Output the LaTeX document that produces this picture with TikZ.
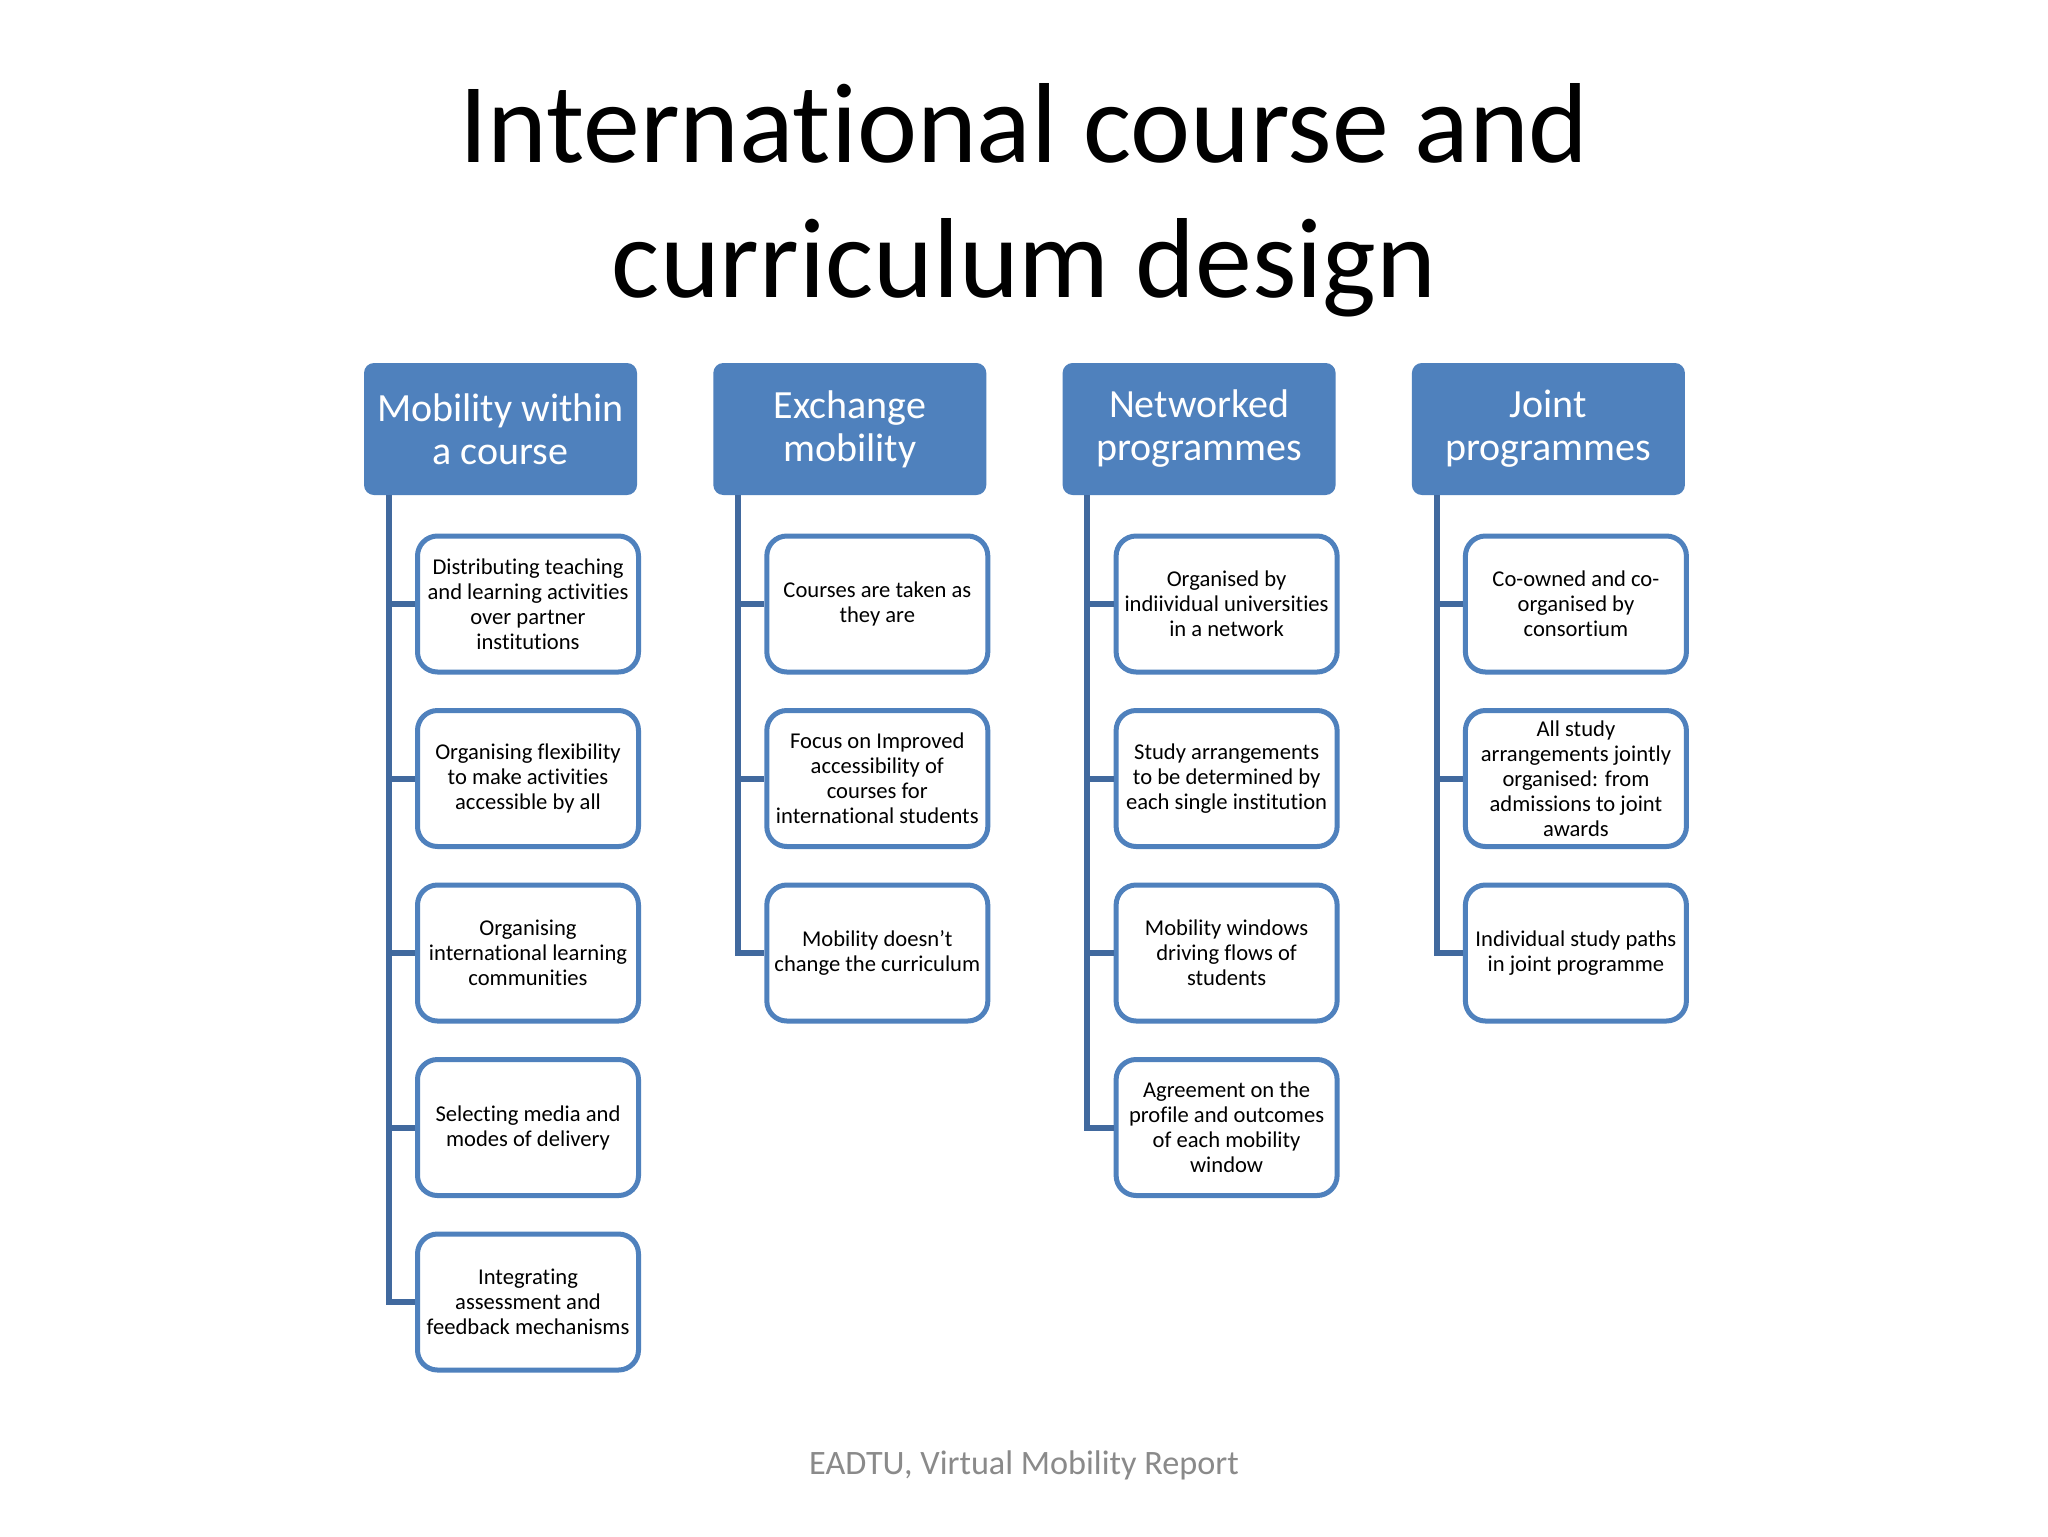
\documentclass[tikz,border=0pt]{standalone}
\usepackage{fontspec}
\setmainfont{Carlito}[Ligatures=NoCommon]
\definecolor{hdr}{HTML}{4F81BD}
\definecolor{bord}{HTML}{4F81BD}
\definecolor{conncol}{HTML}{41699E}
\definecolor{foot}{HTML}{8A8A8A}
\tikzset{
  header/.style={fill=hdr, draw=none, rounded corners=5pt, minimum width=136.5pt, minimum height=66pt,
    inner sep=0pt, align=center, text=white, font=\fontsize{20}{21.5}\selectfont},
  child/.style={fill=white, draw=bord, line width=2.5pt, rounded corners=10pt, minimum width=110.5pt,
    minimum height=68pt, inner sep=0pt, align=center, text=black, font=\fontsize{11.3}{12.5}\selectfont},
  conn/.style={draw=conncol, line width=3pt},
}
\begin{document}
\begin{tikzpicture}[x=0.5pt,y=-0.5pt]
\useasboundingbox[fill=white] (0,0) rectangle (2048,1536);
\node[font=\fontsize{56.9}{67.5}\selectfont, align=center] (title) at (1024,200) {International course and\\curriculum design};
\node[font=\fontsize{17.1}{19}\selectfont, text=foot] (footer) at (1024,1465) {EADTU, Virtual Mobility Report};

% headers
\node[header] (h0) at (500.5,429) {Mobility within\\a course};
\node[header] (h1) at (849.8,429) {Exchange\\mobility};
\node[header] (h2) at (1199.1,429) {Networked\\programmes};
\node[header] (h3) at (1548.4,429) {Joint\\programmes};

% column 0
\node[child] (c0-1) at (528,604) {Distributing teaching\\and learning activities\\over partner\\institutions};
\node[child] (c0-2) at (528,778.5) {Organising flexibility\\to make activities\\accessible by all};
\node[child] (c0-3) at (528,953) {Organising\\international learning\\communities};
\node[child] (c0-4) at (528,1127.5) {Selecting media and\\modes of delivery};
\node[child] (c0-5) at (528,1302) {Integrating\\assessment and\\feedback mechanisms};

% column 1
\node[child] (c1-1) at (877.3,604) {Courses are taken as\\they are};
\node[child] (c1-2) at (877.3,778.5) {Focus on Improved\\accessibility of\\courses for\\international students};
\node[child] (c1-3) at (877.3,953) {Mobility doesn’t\\change the curriculum};

% column 2
\node[child] (c2-1) at (1226.6,604) {Organised by\\indiividual universities\\in a network};
\node[child] (c2-2) at (1226.6,778.5) {Study arrangements\\to be determined by\\each single institution};
\node[child] (c2-3) at (1226.6,953) {Mobility windows\\driving flows of\\students};
\node[child] (c2-4) at (1226.6,1127.5) {Agreement on the\\profile and outcomes\\of each mobility\\window};

% column 3
\node[child] (c3-1) at (1575.9,604) {Co-owned and co-\\organised by\\consortium};
\node[child] (c3-2) at (1575.9,778.5) {All study\\arrangements jointly\\organised: from\\admissions to joint\\awards};
\node[child] (c3-3) at (1575.9,953) {Individual study paths\\in joint programme};

% connectors
\coordinate (t0) at ([xshift=12.5pt]h0.south west);
\coordinate (t1) at ([xshift=12.5pt]h1.south west);
\coordinate (t2) at ([xshift=12.5pt]h2.south west);
\coordinate (t3) at ([xshift=12.5pt]h3.south west);

\draw[conn] (t0) |- (c0-5.west);
\foreach \j in {1,2,3,4} \draw[conn] (t0 |- c0-\j.west) -- (c0-\j.west);
\draw[conn] (t1) |- (c1-3.west);
\foreach \j in {1,2} \draw[conn] (t1 |- c1-\j.west) -- (c1-\j.west);
\draw[conn] (t2) |- (c2-4.west);
\foreach \j in {1,2,3} \draw[conn] (t2 |- c2-\j.west) -- (c2-\j.west);
\draw[conn] (t3) |- (c3-3.west);
\foreach \j in {1,2} \draw[conn] (t3 |- c3-\j.west) -- (c3-\j.west);
\end{tikzpicture}
\end{document}
